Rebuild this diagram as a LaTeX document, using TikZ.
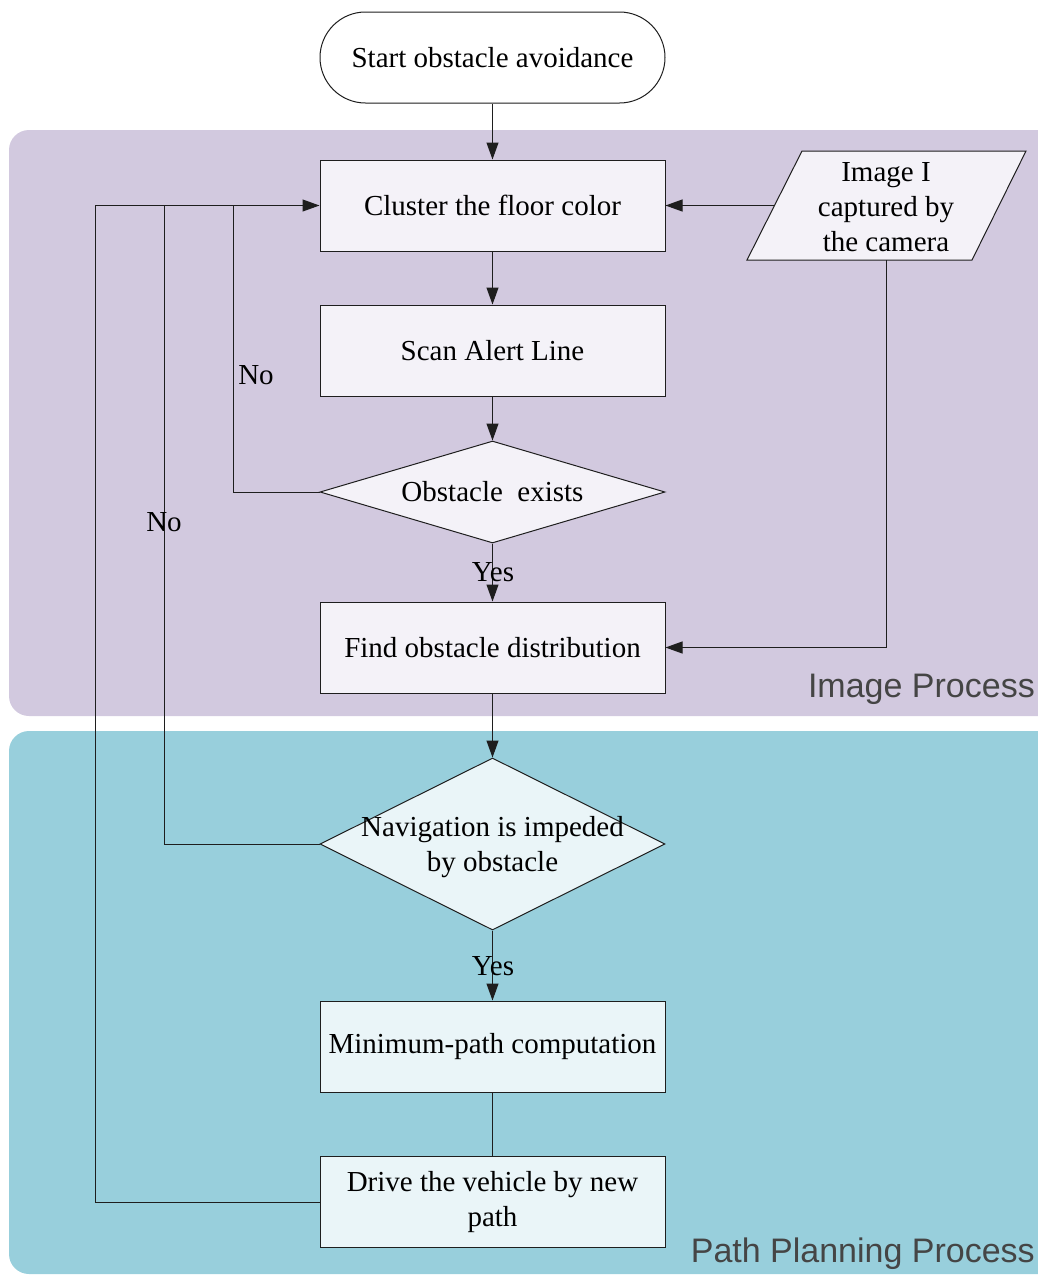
\documentclass[tikz,border=0pt]{standalone}
\usepackage{fontspec}
\setmainfont{Liberation Serif}
\newfontfamily\lanefont{Liberation Sans}
\usetikzlibrary{shapes.geometric,shapes.misc,arrows.meta}

\definecolor{laneA}{HTML}{D2C9DF}
\definecolor{laneB}{HTML}{98CFDC}
\definecolor{boxA}{HTML}{F4F2F8}
\definecolor{boxB}{HTML}{EAF5F8}
\definecolor{edge}{HTML}{1E1E1E}
\definecolor{lanetext}{HTML}{454545}

\begin{document}
\begin{tikzpicture}[x=1pt,y=-1pt,
  every node/.style={font=\fontsize{29}{35}\selectfont},
  proc/.style={draw=edge, line width=1pt, minimum width=345pt, minimum height=91pt,
    inner sep=0pt, align=center},
  decide/.style={diamond, draw=edge, line width=1pt, minimum width=345pt, inner sep=0pt},
  link/.style={draw=edge, line width=1pt},
  arr/.style={link, -{Triangle[length=17pt,width=12pt]}},
  lanelabel/.style={font=\lanefont\fontsize{34}{37}\selectfont, text=lanetext, anchor=base east, inner sep=0pt}]

\useasboundingbox (0,0) rectangle (1038,1275);

% swim lanes
\begin{scope}
  \clip (0,0) rectangle (1038,1275);
  \fill[laneA, rounded corners=20pt] (9,130) rectangle (1058,716);
  \fill[laneB, rounded corners=20pt] (9,731) rectangle (1058,1274);
\end{scope}
\node[lanelabel] (laneimg) at (1035,697) {Image Process};
\node[lanelabel] (lanepath) at (1035,1262) {Path Planning Process};

% terminal
\node[rounded rectangle, draw=edge, line width=1pt, fill=white, minimum width=345pt,
  minimum height=91pt, inner sep=0pt] (start) at (492.5,57.5) {Start obstacle avoidance};

% image processing steps
\node[proc, fill=boxA] (cluster) at (492.5,205.5) {Cluster the floor color};
\node[proc, fill=boxA] (scan) at (492.5,350.5) {Scan Alert Line};
\node[decide, fill=boxA, minimum height=102pt] (exists) at (492.5,492) {};
\node (existstxt) at (exists.center) {Obstacle\ \ exists};
\node[proc, fill=boxA] (find) at (492.5,647.5) {Find obstacle distribution};

% camera input (parallelogram)
\fill[boxA] (802,151) -- (1026,151) -- (972,260) -- (747,260) -- cycle;
\draw[link, line join=miter] (802,151) -- (1026,151) -- (972,260) -- (747,260) -- cycle;
\node[align=center] (img) at (886,207) {Image I\\captured by\\the camera};
\coordinate (imgL) at (774.5,205.5);
\coordinate (imgB) at (886.5,260);

% path planning steps
\node[decide, fill=boxB, minimum height=172pt] (nav) at (492.5,844) {};
\node[align=center] (navtxt) at ([yshift=-3pt]nav.center) {Navigation is impeded\\by obstacle};
\node[proc, fill=boxB] (minp) at (492.5,1046.5) {Minimum-path computation};
\node[proc, fill=boxB] (drive) at (492.5,1202) {Drive the vehicle by new\\path};

% feedback junctions on the left
\coordinate (j1) at (95,205.5);
\coordinate (j2) at (164,205.5);
\coordinate (j3) at (233,205.5);

% main flow
\draw[arr] (start) -- (cluster);
\draw[arr] (cluster) -- (scan);
\draw[arr] (scan) -- (exists.north);
\draw[arr] (exists.south) -- (find);
\draw[arr] (find) -- (nav.north);
\draw[arr] (nav.south) -- (minp);
\draw[link] (minp) -- (drive);

% camera feeds
\draw[arr] (imgL) -- (cluster.east);
\draw[arr] (imgB) |- (find.east);

% loops back to clustering
\draw[link] (exists.west) -| (j3);
\draw[link] (nav.west) -| (j2);
\draw[link] (drive.west) -| (j1);
\draw[arr] (j1) -- (cluster.west);

% branch labels
\node (no1) at (256,375) {No};
\node (no2) at (164,522) {No};
\node (yes1) at (493,572) {Yes};
\node (yes2) at (493,966) {Yes};
\end{tikzpicture}
\end{document}
